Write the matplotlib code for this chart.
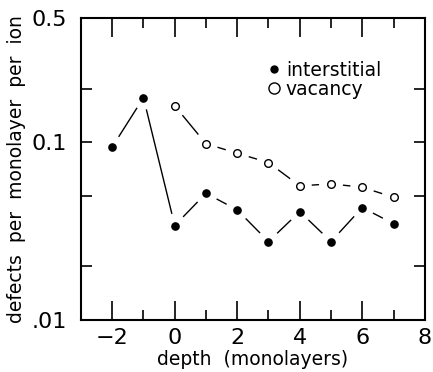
import numpy as np
import matplotlib
matplotlib.use("Agg")
import matplotlib.pyplot as plt
from matplotlib.lines import Line2D
from matplotlib.ticker import FixedLocator, FixedFormatter, NullFormatter

# données
depth = [-2, -1, 0, 1, 2, 3, 4, 5, 6, 7]
interstitial = [0.094, 0.178, 0.034, 0.0516, 0.0416, 0.0276, 0.0407, 0.0276, 0.0429, 0.0348]
depth_vac = [0, 1, 2, 3, 4, 5, 6, 7]
vacancy = [0.160, 0.098, 0.0867, 0.0768, 0.0568, 0.0583, 0.0558, 0.049]

y_major = [0.01, 0.1, 0.5]
y_major_labels = [".01", "0.1", "0.5"]
y_minor = [0.02, 0.05, 0.2]

plt.rcParams['font.family'] = ['DejaVu Sans']

fig = plt.figure(figsize=(4.33, 3.72), dpi=100)
ax = fig.add_axes([0.187, 0.1398, 0.794, 0.812])
ax.set_yscale("log")
ax.set_xlim(-3, 8)
ax.set_ylim(0.01, 0.5)


def trait_coupe(ax, x, y, gap=12.0, **kw):
    """trace les segments entre points en laissant un blanc autour de chaque point"""
    fig.canvas.draw()
    pts = ax.transData.transform(np.column_stack([x, y]))
    inv = ax.transData.inverted()
    for p0, p1 in zip(pts[:-1], pts[1:]):
        d = p1 - p0
        L = np.hypot(*d)
        if L <= 2 * gap:
            continue
        u = d / L
        a = inv.transform(p0 + u * gap)
        b = inv.transform(p1 - u * gap)
        ax.plot([a[0], b[0]], [a[1], b[1]], color="black", lw=1.0, solid_capstyle="butt")


trait_coupe(ax, depth, interstitial)
trait_coupe(ax, depth_vac, vacancy)
ax.plot(depth, interstitial, "o", color="black", ms=5.2, ls="none")
ax.plot(depth_vac, vacancy, "o", mfc="white", mec="black", mew=1.0, ms=5.5, ls="none")

# axes et graduations
for s in ax.spines.values():
    s.set_linewidth(1.5)
ax.set_xticks([-2, 0, 2, 4, 6, 8])
ax.set_xticklabels(["\u22122", "0", "2", "4", "6", "8"])
ax.set_xticks([-1, 1, 3, 5, 7], minor=True)
ax.yaxis.set_major_locator(FixedLocator(y_major + y_minor))
ax.yaxis.set_major_formatter(FixedFormatter(y_major_labels + ["", "", ""]))
ax.yaxis.set_minor_locator(FixedLocator([]))
ax.yaxis.set_minor_formatter(NullFormatter())

ax.tick_params(axis="x", which="major", direction="in", length=14, width=1.2,
               top=True, bottom=True, labelsize=16, pad=6)
ax.tick_params(axis="x", which="minor", direction="in", length=7, width=1.2,
               top=True, bottom=True)
ax.tick_params(axis="y", which="major", direction="in", length=8, width=1.2,
               left=True, right=True, labelsize=16, pad=10)

ax.set_xlabel("depth  (monolayers)", fontsize=13.5, labelpad=1)
ax.set_ylabel("defects  per  monolayer  per  ion", fontsize=13.5, labelpad=4)

handles = [Line2D([], [], marker="o", ls="none", color="black", ms=5),
           Line2D([], [], marker="o", ls="none", mfc="white", mec="black", mew=1.0, ms=8)]
ax.legend(handles, ["interstitial", "vacancy"], loc="upper left",
          bbox_to_anchor=(0.503, 0.89), frameon=False, fontsize=13.5,
          handletextpad=0.1, handlelength=1.1, labelspacing=0.0, borderpad=0)

fig.savefig("out.png", dpi=100)
